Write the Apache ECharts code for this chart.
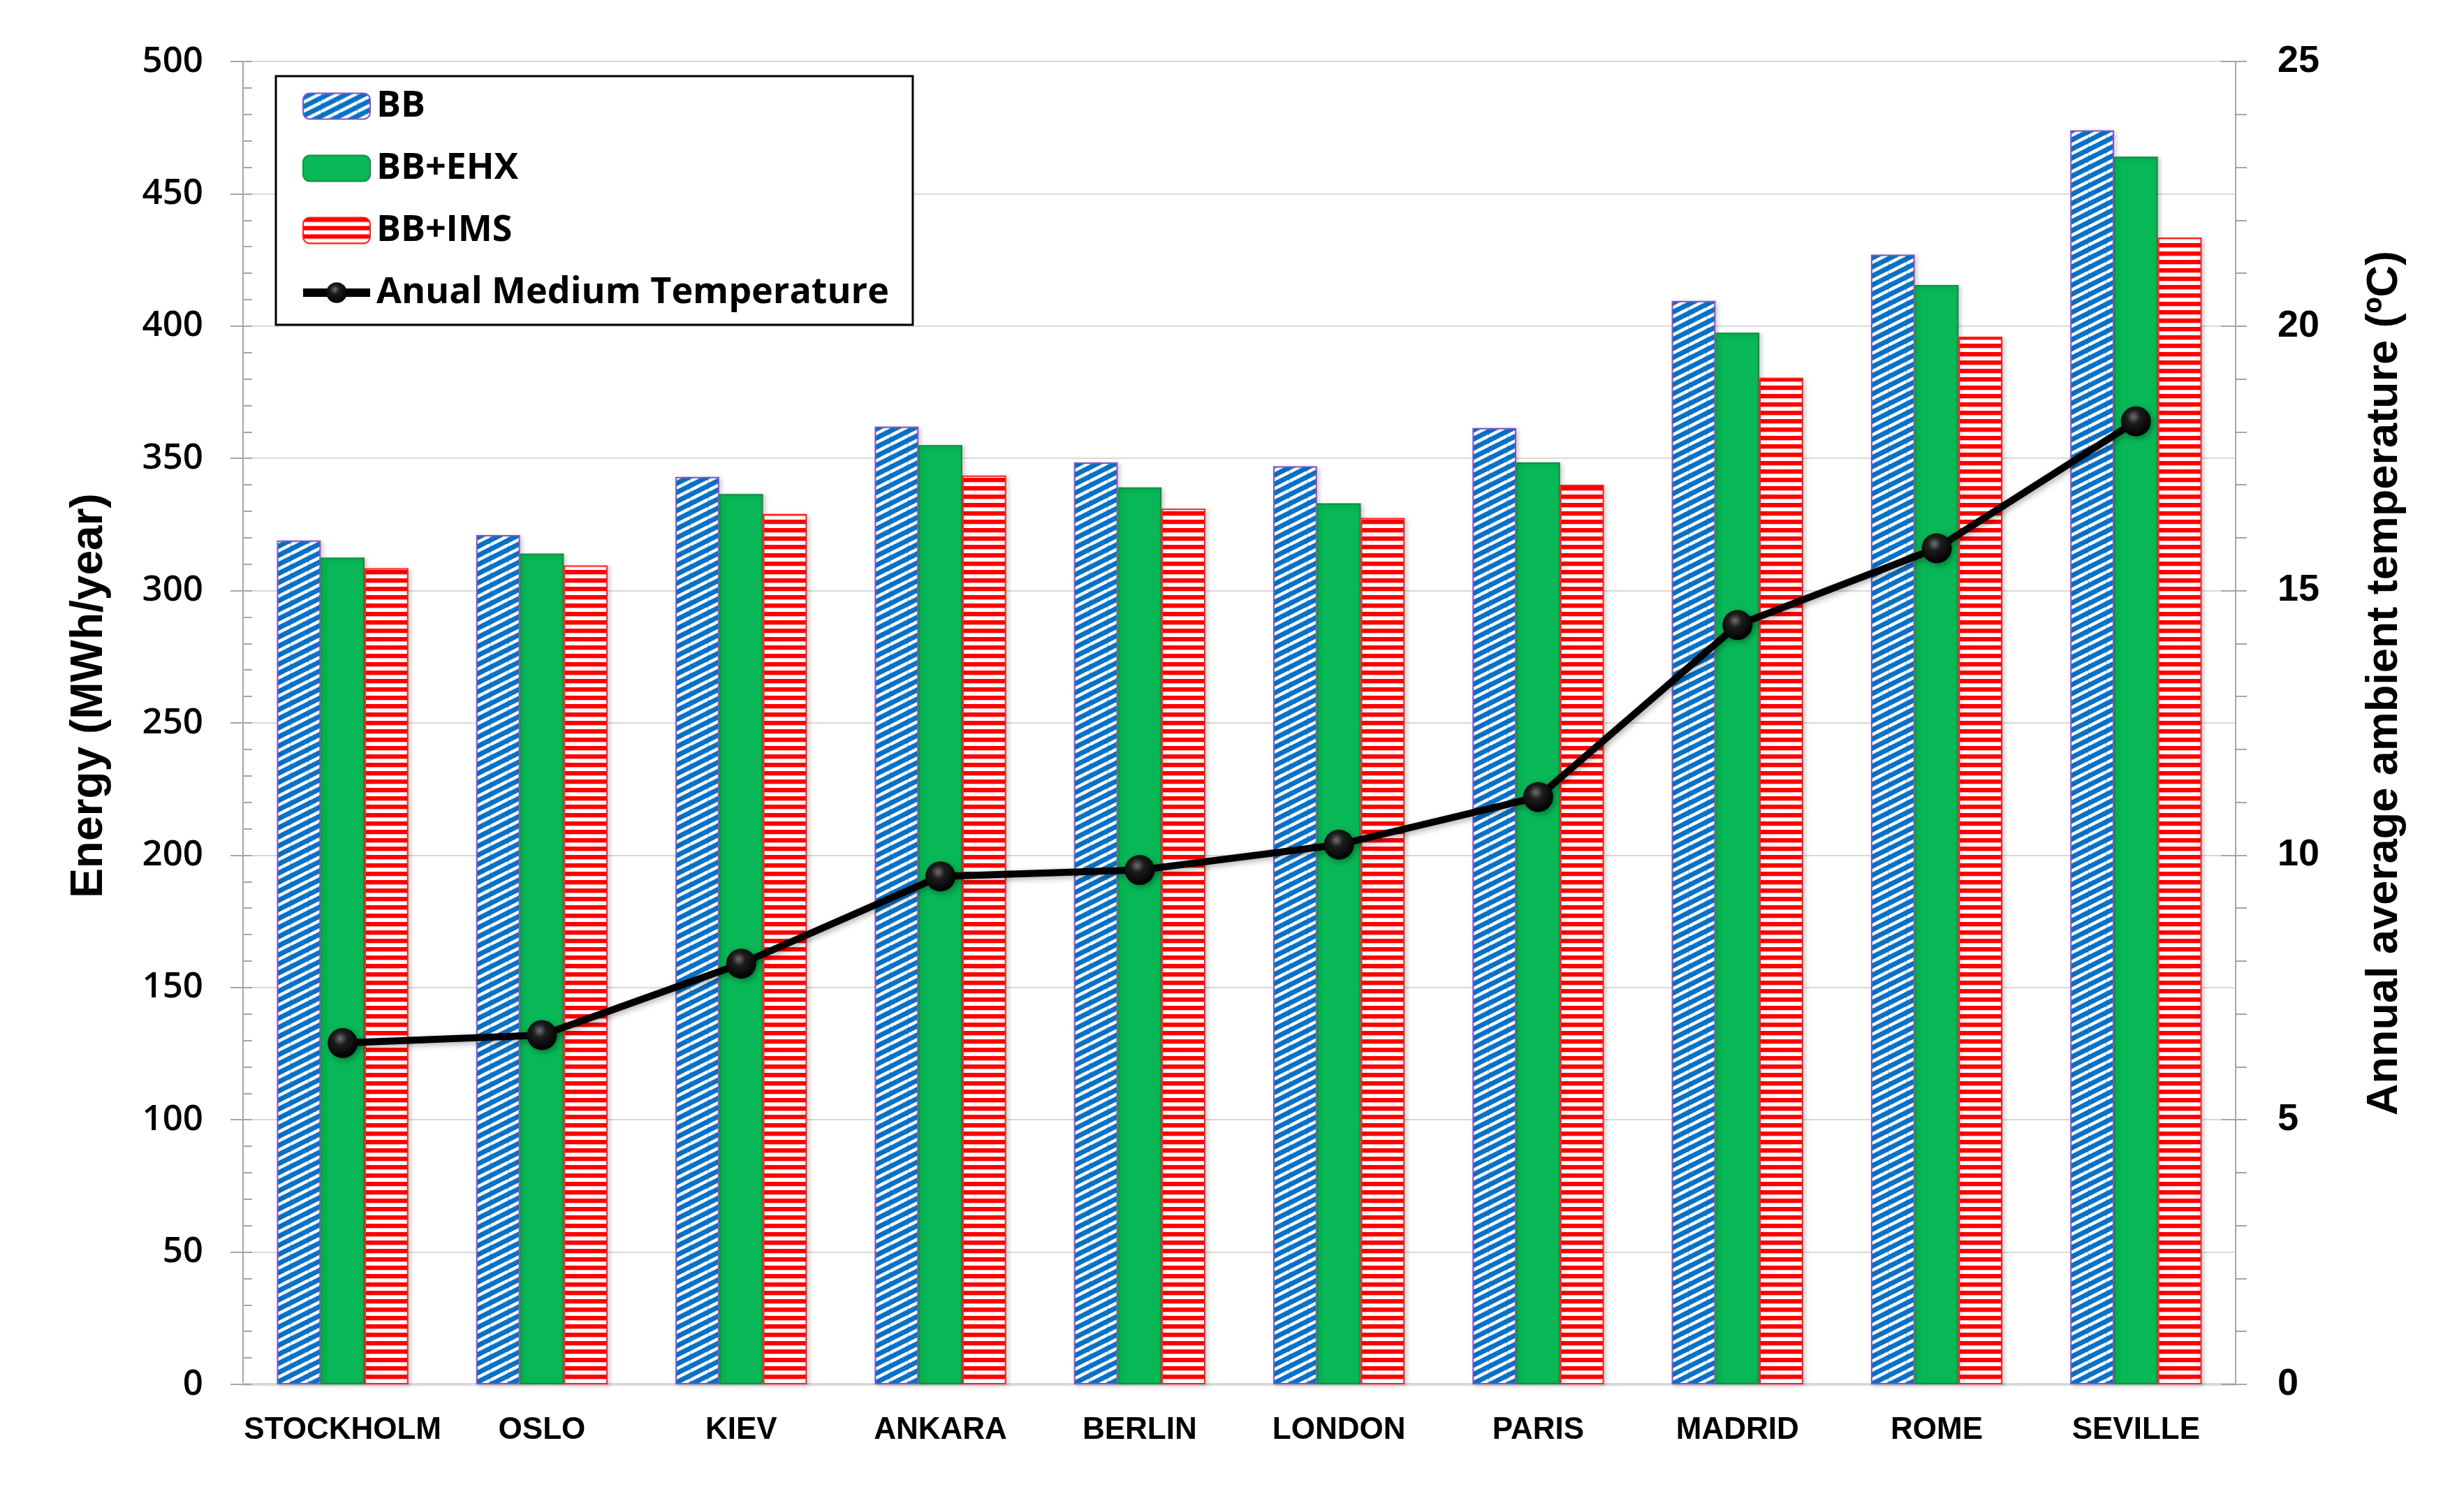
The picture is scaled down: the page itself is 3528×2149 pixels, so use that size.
<!DOCTYPE html>
<html>
<head>
<meta charset="utf-8">
<script src="https://cdn.jsdelivr.net/npm/echarts@6/dist/echarts.min.js"></script>
<style>
html,body{margin:0;padding:0;background:#fff;}
#chart{width:3528px;height:2149px;}
</style>
</head>
<body>
<div id="chart"></div>
<script>
const cities = ['STOCKHOLM','OSLO','KIEV','ANKARA','BERLIN','LONDON','PARIS','MADRID','ROME','SEVILLE'];
const bbValues  = [319, 321, 343, 362, 348.5, 347, 361.5, 409.5, 427, 474];
const ehxValues = [312.5, 314, 336.5, 355, 339, 333, 348.5, 397.5, 415.5, 464];
const imsValues = [308.5, 309.5, 329, 343.5, 331, 327.5, 340, 380.5, 396, 433.5];
const tempValues = [6.45, 6.6, 7.95, 9.6, 9.72, 10.2, 11.1, 14.35, 15.8, 18.2];
const energyTicks = {min: 0, max: 500, interval: 50};
const tempTicks = {min: 0, max: 25, interval: 5};

function diagPattern() {
  const W = 26, H = 13;
  const c = document.createElement('canvas');
  c.width = W; c.height = H;
  const g = c.getContext('2d');
  g.fillStyle = '#0A72C6';
  g.fillRect(0, 0, W, H);
  g.strokeStyle = '#ffffff';
  g.lineWidth = 4.6;
  for (let n = -1; n <= 1; n++) {
    g.beginPath();
    g.moveTo(0, H + n * H);
    g.lineTo(W, n * H);
    g.stroke();
  }
  return c;
}
function horizPattern() {
  const c = document.createElement('canvas');
  c.width = 12; c.height = 12;
  const g = c.getContext('2d');
  g.fillStyle = '#ffffff';
  g.fillRect(0, 0, 12, 12);
  g.fillStyle = '#FF0000';
  g.fillRect(0, 0, 12, 6);
  g.fillStyle = 'rgba(255,120,120,0.6)';
  g.fillRect(0, 6, 12, 1);
  return c;
}

const chart = echarts.init(document.getElementById('chart'), null, {renderer: 'canvas'});

const arial = "'Liberation Sans',Arial,sans-serif";
const gray = '#A6A6A6';

const barShadow = {shadowColor: 'rgba(0,0,0,0.18)', shadowBlur: 6, shadowOffsetX: 3, shadowOffsetY: 2};

const option = {
  backgroundColor: '#ffffff',
  animation: false,
  grid: {left: 348, right: 327, top: 88, bottom: 167, containLabel: false},
  legend: {
    orient: 'vertical',
    left: 395,
    top: 109,
    padding: [17, 34, 20, 33],
    itemGap: 37,
    itemWidth: 96,
    itemHeight: 37,
    borderColor: '#000',
    borderWidth: 3,
    backgroundColor: '#fff',
    textStyle: {fontFamily: "'Open Sans',sans-serif", fontWeight: 'bold', fontSize: 52, color: '#000', lineHeight: 52, padding: [0, 0, 0, 4]},
    data: ['BB', 'BB+EHX', 'BB+IMS', {name: 'Anual Medium Temperature', lineStyle: {width: 12, color: '#000'}}]
  },
  xAxis: {
    type: 'category',
    data: cities,
    boundaryGap: true,
    axisLine: {show: true, lineStyle: {color: '#D9D9D9', width: 4}},
    axisTick: {show: false},
    axisLabel: {interval: 0, margin: 44, fontFamily: arial, fontWeight: 'bold', fontSize: 44, color: '#000'}
  },
  yAxis: [
    {
      type: 'value', position: 'left',
      min: energyTicks.min, max: energyTicks.max, interval: energyTicks.interval,
      axisLine: {show: true, lineStyle: {color: gray, width: 2}},
      axisTick: {show: true, inside: true, length: 13, lineStyle: {color: gray, width: 2}},
      minorTick: {show: true, splitNumber: 5, length: 13, lineStyle: {color: gray, width: 2}},
      splitLine: {show: true, lineStyle: {color: '#D9D9D9', width: 2}},
      axisLabel: {margin: 57, fontFamily: "'Open Sans',sans-serif", fontWeight: 600, fontSize: 51, color: '#000'}
    },
    {
      type: 'value', position: 'right',
      min: tempTicks.min, max: tempTicks.max, interval: tempTicks.interval,
      axisLine: {show: true, lineStyle: {color: gray, width: 2}},
      axisTick: {show: true, inside: false, length: 16, lineStyle: {color: gray, width: 2}},
      minorTick: {show: true, splitNumber: 5, length: 16, lineStyle: {color: gray, width: 2}},
      splitLine: {show: false},
      axisLabel: {margin: 60, fontFamily: arial, fontWeight: 'bold', fontSize: 54, color: '#000'}
    },
    {
      type: 'value', position: 'left',
      min: energyTicks.min, max: energyTicks.max, interval: energyTicks.interval,
      axisLine: {show: false},
      axisTick: {show: true, inside: false, length: 18, lineStyle: {color: gray, width: 2}},
      splitLine: {show: false},
      axisLabel: {show: false}
    },
    {
      type: 'value', position: 'right',
      min: tempTicks.min, max: tempTicks.max, interval: tempTicks.interval,
      axisLine: {show: false},
      axisTick: {show: true, inside: true, length: 21, lineStyle: {color: gray, width: 2}},
      splitLine: {show: false},
      axisLabel: {show: false}
    }
  ],
  series: [
    {
      name: 'BB', type: 'bar', yAxisIndex: 0, data: bbValues,
      barGap: '0%', barCategoryGap: '34%',
      itemStyle: Object.assign({color: {image: diagPattern(), repeat: 'repeat'}, borderColor: '#8A4FC9', borderWidth: 2}, barShadow)
    },
    {
      name: 'BB+EHX', type: 'bar', yAxisIndex: 0, data: ehxValues,
      barGap: '0%', barCategoryGap: '34%',
      itemStyle: Object.assign({color: '#08B755', borderColor: '#0E8F40', borderWidth: 2}, barShadow)
    },
    {
      name: 'BB+IMS', type: 'bar', yAxisIndex: 0, data: imsValues,
      barGap: '0%', barCategoryGap: '34%',
      itemStyle: Object.assign({color: {image: horizPattern(), repeat: 'repeat'}, borderColor: '#FF2020', borderWidth: 2}, barShadow)
    },
    {
      name: 'Anual Medium Temperature', type: 'line', yAxisIndex: 1, data: tempValues,
      z: 10,
      symbol: 'circle', symbolSize: 43,
      lineStyle: {color: '#000', width: 10, shadowColor: 'rgba(0,0,0,0.3)', shadowBlur: 8, shadowOffsetX: 3, shadowOffsetY: 3},
      itemStyle: {
        color: {type: 'radial', x: 0.42, y: 0.35, r: 0.65, colorStops: [
          {offset: 0, color: '#707070'}, {offset: 0.35, color: '#1c1c1c'}, {offset: 1, color: '#000'}]},
        borderWidth: 0,
        shadowColor: 'rgba(0,0,0,0.35)', shadowBlur: 8, shadowOffsetX: 3, shadowOffsetY: 3
      }
    }
  ],
  graphic: [
    {
      type: 'text', x: 128, y: 996, rotation: Math.PI / 2,
      style: {text: 'Energy (MWh/year)', textAlign: 'center', textVerticalAlign: 'middle',
        fontFamily: arial, fontWeight: 'bold', fontSize: 64, fill: '#000'}
    },
    {
      type: 'text', x: 3415, y: 978, rotation: Math.PI / 2,
      style: {text: 'Annual average ambient temperature (ºC)', textAlign: 'center', textVerticalAlign: 'middle',
        fontFamily: arial, fontWeight: 'bold', fontSize: 63, fill: '#000'}
    }
  ]
};
chart.setOption(option);
</script>
</body>
</html>
